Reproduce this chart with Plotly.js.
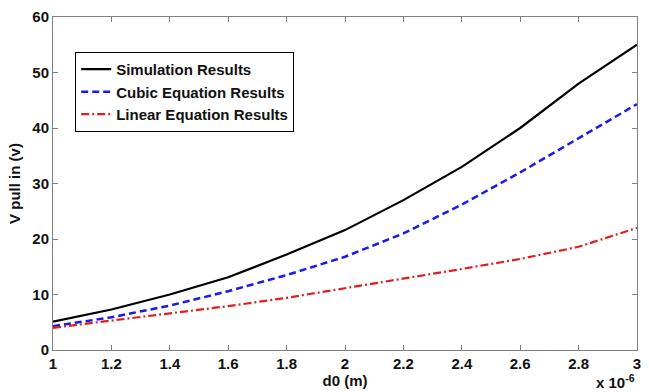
<!DOCTYPE html>
<html><head><meta charset="utf-8">
<script src="https://cdn.plot.ly/plotly-3.0.1.min.js"></script>
<style>html,body{margin:0;padding:0;background:#fff}#c{width:649px;height:392px}</style>
</head><body><div id="c"></div>
<script>
const d0 = [1.0, 1.2, 1.4, 1.6, 1.8, 2.0, 2.2, 2.4, 2.6, 2.8, 3.0];
const simulation = [5.1, 7.3, 10.0, 13.1, 17.2, 21.6, 27.0, 33.0, 40.0, 48.0, 55.0];
const cubic = [4.3, 5.9, 8.0, 10.6, 13.5, 16.8, 21.0, 26.2, 32.0, 38.2, 44.3];
const linear = [4.0, 5.3, 6.6, 7.9, 9.4, 11.1, 12.9, 14.6, 16.4, 18.6, 22.0];
const names = ['Simulation Results', 'Cubic Equation Results', 'Linear Equation Results'];
const xTicks = [1, 1.2, 1.4, 1.6, 1.8, 2, 2.2, 2.4, 2.6, 2.8, 3];
const xTickText = ['1', '1.2', '1.4', '1.6', '1.8', '2', '2.2', '2.4', '2.6', '2.8', '3'];
const yTicks = [0, 10, 20, 30, 40, 50, 60];

const F = 'Liberation Sans, Arial, sans-serif';
const traces = [
  {x: d0, y: simulation, name: names[0], mode: 'lines', line: {color: '#000000', width: 2.2, dash: 'solid'}},
  {x: d0, y: cubic, name: names[1], mode: 'lines', line: {color: '#1a1ae6', width: 2.5, dash: '7px,4px'}},
  {x: d0, y: linear, name: names[2], mode: 'lines', line: {color: '#e01e1e', width: 2.2, dash: '8px,3px,2px,3px'}}
];
const axisCommon = {
  showgrid: false, zeroline: false, showline: true, mirror: 'ticks',
  linecolor: '#808080', linewidth: 1, ticks: 'inside', ticklen: 5, tickcolor: '#808080',
  tickfont: {family: F, size: 15, color: '#111', weight: 'bold'}
};
const layout = {
  width: 649, height: 392,
  margin: {l: 53, r: 12, t: 17, b: 42},
  paper_bgcolor: '#fff', plot_bgcolor: '#fff',
  showlegend: true,
  legend: {x: 0.038, y: 0.895, xanchor: 'left', yanchor: 'top',
    bgcolor: '#fff', bordercolor: '#000', borderwidth: 1,
    font: {family: F, size: 15, color: '#111', weight: 'bold'},
    tracegroupgap: 0, itemwidth: 30},
  xaxis: Object.assign({}, axisCommon, {range: [1, 3], tickmode: 'array', tickvals: xTicks, ticktext: xTickText,
    title: {text: '<b>d0 (m)</b>', font: {family: F, size: 15, color: '#111'}, standoff: 2}}),
  yaxis: Object.assign({}, axisCommon, {range: [0, 60], tickmode: 'array', tickvals: yTicks,
    title: {text: '<b>V pull in (v)</b>', font: {family: F, size: 15, color: '#111'}, standoff: 8}}),
  annotations: [{xref: 'paper', yref: 'paper', x: 1, y: 0, xanchor: 'right', yanchor: 'bottom', yshift: -43,
    showarrow: false, text: '<b>x 10<sup>-6</sup></b>', font: {family: F, size: 15, color: '#111'}}]
};
Plotly.newPlot('c', traces, layout, {staticPlot: true, displayModeBar: false});
</script></body></html>
